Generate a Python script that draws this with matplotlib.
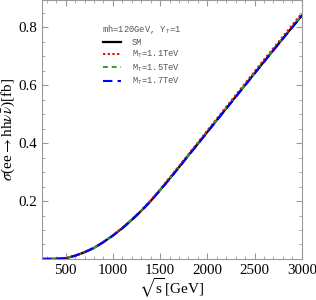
import numpy as np
import matplotlib.pyplot as plt
from matplotlib.ticker import MultipleLocator, FixedLocator

plt.rcParams['mathtext.fontset'] = 'stix'

# sqrt(s) in GeV and cross sections in fb
sqrt_s = [250, 300, 400, 500, 600, 700, 800, 900, 1000, 1100, 1200, 1300,
          1400, 1500, 1600, 1700, 1800, 1900, 2000, 2200, 2400, 2600, 2800, 3000]
sig_sm = [0.0, 0.0, 0.0005, 0.002, 0.011, 0.023, 0.038, 0.058, 0.081, 0.106,
          0.135, 0.166, 0.200, 0.238, 0.277, 0.317, 0.358, 0.398, 0.439,
          0.520, 0.601, 0.682, 0.762, 0.841]
sig_11 = [0.0, 0.0, 0.0005, 0.002, 0.011, 0.023, 0.039, 0.059, 0.082, 0.108,
          0.137, 0.168, 0.203, 0.241, 0.281, 0.321, 0.362, 0.403, 0.444,
          0.526, 0.607, 0.689, 0.769, 0.849]
sig_15 = [0.0, 0.0, 0.0005, 0.002, 0.011, 0.023, 0.038, 0.058, 0.081, 0.107,
          0.136, 0.167, 0.201, 0.239, 0.278, 0.318, 0.359, 0.399, 0.440,
          0.521, 0.602, 0.684, 0.764, 0.843]
sig_17 = [0.0, 0.0, 0.0005, 0.002, 0.011, 0.023, 0.038, 0.058, 0.080, 0.106,
          0.134, 0.165, 0.199, 0.237, 0.276, 0.316, 0.357, 0.397, 0.438,
          0.519, 0.600, 0.681, 0.761, 0.840]

fig = plt.figure(figsize=(3.16, 3.0), dpi=100)
ax = fig.add_axes([0.133, 0.137, 0.822, 0.863])

ax.plot(sqrt_s, sig_sm, color='black', lw=1.6, label='SM')
ax.plot(sqrt_s, sig_11, color='red', lw=1.4,
        dashes=(1.2, 1.2), label=r'M$_\mathregular{T}$=1.1TeV')
ax.plot(sqrt_s, sig_15, color='#2ca02c', lw=1.4,
        dashes=(2.5, 2), label=r'M$_\mathregular{T}$=1.5TeV')
ax.plot(sqrt_s, sig_17, color='blue', lw=1.5,
        dashes=(4.5, 2.5), label=r'M$_\mathregular{T}$=1.7TeV')

ax.set_xlim(250, 3000)
ax.set_ylim(0, 0.895)
ax.xaxis.set_major_locator(FixedLocator([500, 1000, 1500, 2000, 2500, 3000]))
ax.xaxis.set_minor_locator(MultipleLocator(100))
ax.yaxis.set_major_locator(FixedLocator([0.2, 0.4, 0.6, 0.8]))
ax.yaxis.set_minor_locator(MultipleLocator(0.05))

for s in ax.spines.values():
    s.set_color('#999999')
    s.set_linewidth(0.8)
ax.tick_params(which='both', direction='in', top=True, right=True,
               color='#999999', labelsize=10.8,
               labelfontfamily='Liberation Serif')
ax.tick_params(which='major', length=4)
ax.tick_params(which='minor', length=2)

ax.set_xlabel(r'$\sqrt{\mathregular{s}}\,$[GeV]', fontsize=11,
              family='Liberation Serif', labelpad=0)
ax.set_ylabel(r'$\sigma$(ee$\rightarrow$hh$\nu\bar{\nu}$)[fb]', fontsize=11,
              family='Liberation Serif', labelpad=1)

leg = ax.legend(loc='upper left', bbox_to_anchor=(0.2, 0.94),
                title=r'mh=120GeV, Y$_\mathregular{T}$=1', frameon=False,
                prop={'family': 'Liberation Mono', 'size': 6.3},
                handlelength=2.1, handletextpad=1.2, labelspacing=0.25)
leg.get_title().set_fontfamily('Liberation Mono')
leg.get_title().set_fontsize(6.3)
leg.get_title().set_color('#555555')
leg._legend_box.sep = 1
for t in leg.get_texts():
    t.set_color('#555555')

fig.savefig('out.png', dpi=100)
